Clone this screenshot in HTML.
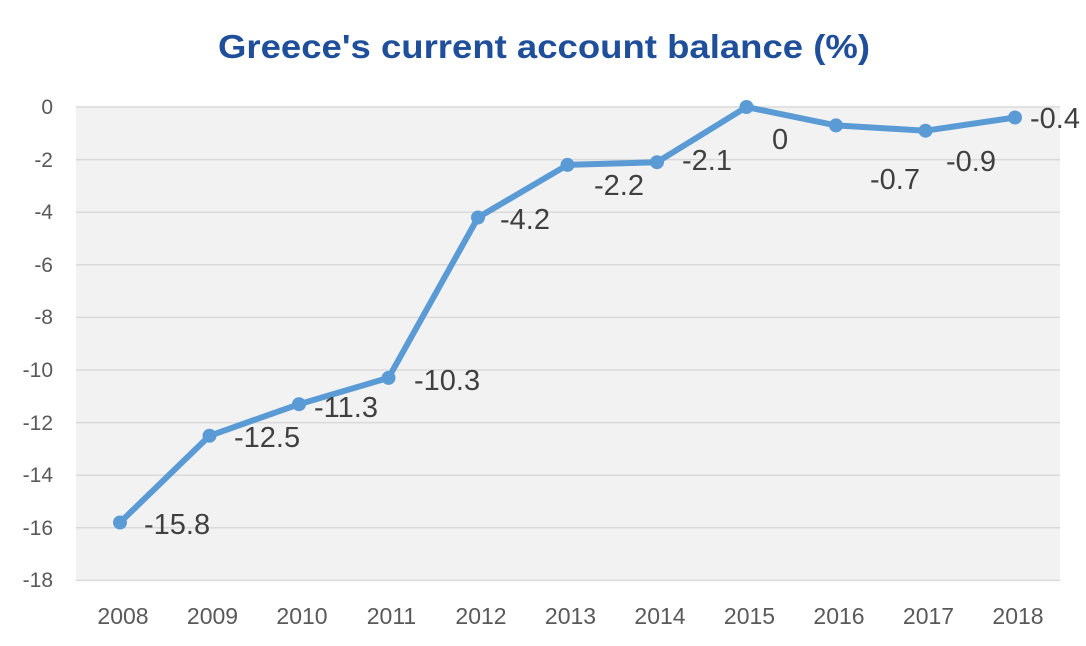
<!DOCTYPE html>
<html><head><style>body{margin:0;background:#fff}svg{display:block}</style></head><body>
<svg width="1086" height="646" xmlns="http://www.w3.org/2000/svg" font-family="Liberation Sans, sans-serif">
<text x="218" y="58" textLength="652" lengthAdjust="spacingAndGlyphs" font-size="33" font-weight="bold" fill="#1f4e9a">Greece's current account balance (%)</text>
<rect x="76" y="107" width="984" height="474" fill="#f2f2f2"/>
<g stroke="#d9d9d9" stroke-width="1.5">
<line x1="76" x2="1060" y1="107" y2="107"/><line x1="76" x2="1060" y1="159.6" y2="159.6"/>
<line x1="76" x2="1060" y1="212.2" y2="212.2"/><line x1="76" x2="1060" y1="264.8" y2="264.8"/>
<line x1="76" x2="1060" y1="317.4" y2="317.4"/><line x1="76" x2="1060" y1="370" y2="370"/>
<line x1="76" x2="1060" y1="422.6" y2="422.6"/><line x1="76" x2="1060" y1="475.2" y2="475.2"/>
<line x1="76" x2="1060" y1="527.8" y2="527.8"/><line x1="76" x2="1060" y1="580.4" y2="580.4"/>
</g>
<g font-size="21" fill="#595959" text-anchor="end">
<text x="53" y="114">0</text><text x="53" y="167">-2</text><text x="53" y="219">-4</text>
<text x="53" y="272">-6</text><text x="53" y="324">-8</text><text x="53" y="377">-10</text>
<text x="53" y="430">-12</text><text x="53" y="482">-14</text><text x="53" y="535">-16</text>
<text x="53" y="587">-18</text>
</g>
<g font-size="23" fill="#595959" text-anchor="middle">
<text x="123" y="624">2008</text><text x="212.5" y="624">2009</text><text x="302" y="624">2010</text>
<text x="391.5" y="624">2011</text><text x="481" y="624">2012</text><text x="570.5" y="624">2013</text>
<text x="660" y="624">2014</text><text x="749.5" y="624">2015</text><text x="839" y="624">2016</text>
<text x="928.5" y="624">2017</text><text x="1018" y="624">2018</text>
</g>
<polyline fill="none" stroke="#5b9bd5" stroke-width="6" stroke-linejoin="round"
points="120,522.5 209.5,435.8 299,404.2 388.5,377.9 478,217.5 567.5,164.9 657,162.2 746.5,107 836,125.4 925.5,130.7 1015,117.5"/>
<g fill="#5b9bd5">
<circle cx="120" cy="522.5" r="7"/><circle cx="209.5" cy="435.8" r="7"/><circle cx="299" cy="404.2" r="7"/>
<circle cx="388.5" cy="377.9" r="7"/><circle cx="478" cy="217.5" r="7"/><circle cx="567.5" cy="164.9" r="7"/>
<circle cx="657" cy="162.2" r="7"/><circle cx="746.5" cy="107" r="7"/><circle cx="836" cy="125.4" r="7"/>
<circle cx="925.5" cy="130.7" r="7"/><circle cx="1015" cy="117.5" r="7"/>
</g>
<g font-size="29" fill="#404040">
<text x="144" y="534">-15.8</text><text x="234" y="447">-12.5</text><text x="314" y="417">-11.3</text>
<text x="414" y="390">-10.3</text><text x="500" y="229">-4.2</text><text x="594" y="195">-2.2</text>
<text x="682" y="170">-2.1</text><text x="772" y="149">0</text><text x="870" y="189">-0.7</text>
<text x="946" y="171">-0.9</text><text x="1030" y="128">-0.4</text>
</g>
</svg>
</body></html>
